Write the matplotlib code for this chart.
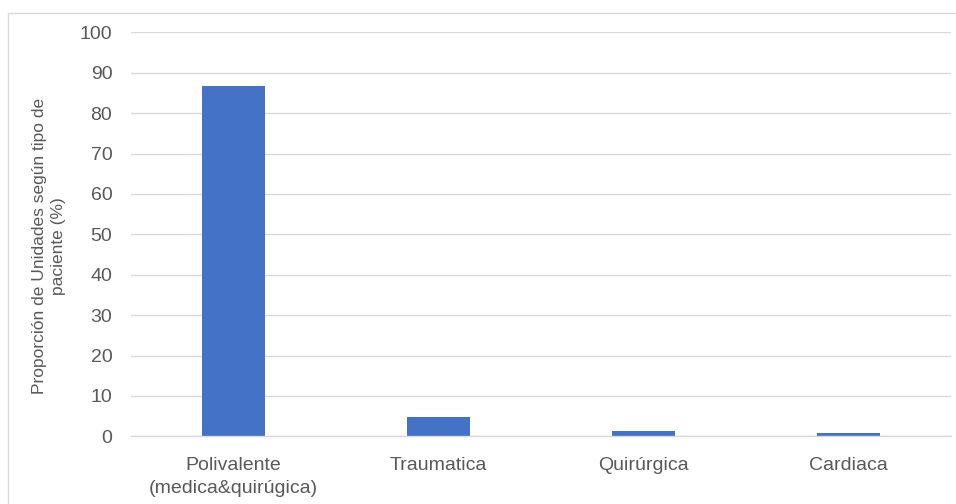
import matplotlib
matplotlib.use("Agg")
import matplotlib.pyplot as plt
from matplotlib.patches import Rectangle

categories = ["Polivalente\n(medica&quirúgica)", "Traumatica", "Quirúrgica", "Cardiaca"]
values = [86.7, 4.7, 1.2, 0.8]
yticks = [0, 10, 20, 30, 40, 50, 60, 70, 80, 90, 100]
ylabel = "Proporción de Unidades según tipo de\npaciente (%)"

plt.rcParams['font.family'] = ['Liberation Sans', 'DejaVu Sans']

W, H = 956, 504
fig = plt.figure(figsize=(W / 100, H / 100), dpi=100)
fig.patches.append(Rectangle((8 / W, -0.1), 1.2, 1 - 13 / H + 0.1, transform=fig.transFigure,
                             fill=False, edgecolor="#D9D9D9", linewidth=1))

ax = fig.add_axes([131 / W, 1 - 436.3 / H, 820 / W, 404 / H])
x = range(len(categories))
ax.bar(x, values, width=0.31, color="#4472C4", zorder=3)
ax.set_xlim(-0.5, 3.5)
ax.set_ylim(0, 100)
ax.set_yticks(yticks)
ax.set_xticks(list(x))
ax.set_xticklabels(categories, fontsize=14, color="#595959", linespacing=1.45)
ax.tick_params(axis='y', labelsize=14, labelcolor="#595959", length=0, pad=13.5)
ax.tick_params(axis='x', length=0, pad=15)
ax.grid(axis='y', color="#D9D9D9", linewidth=1, zorder=0)
for s in ["top", "right", "left"]:
    ax.spines[s].set_visible(False)
ax.spines["bottom"].set_color("#D9D9D9")
ax.spines["bottom"].set_linewidth(1)
ax.spines["bottom"].set_zorder(4)

fig.text(49 / W, 1 - 246 / H, ylabel, rotation=90, ha="center", va="center",
         fontsize=12.5, color="#595959", multialignment="center", linespacing=1.4)

fig.savefig("out.png", dpi=100)
